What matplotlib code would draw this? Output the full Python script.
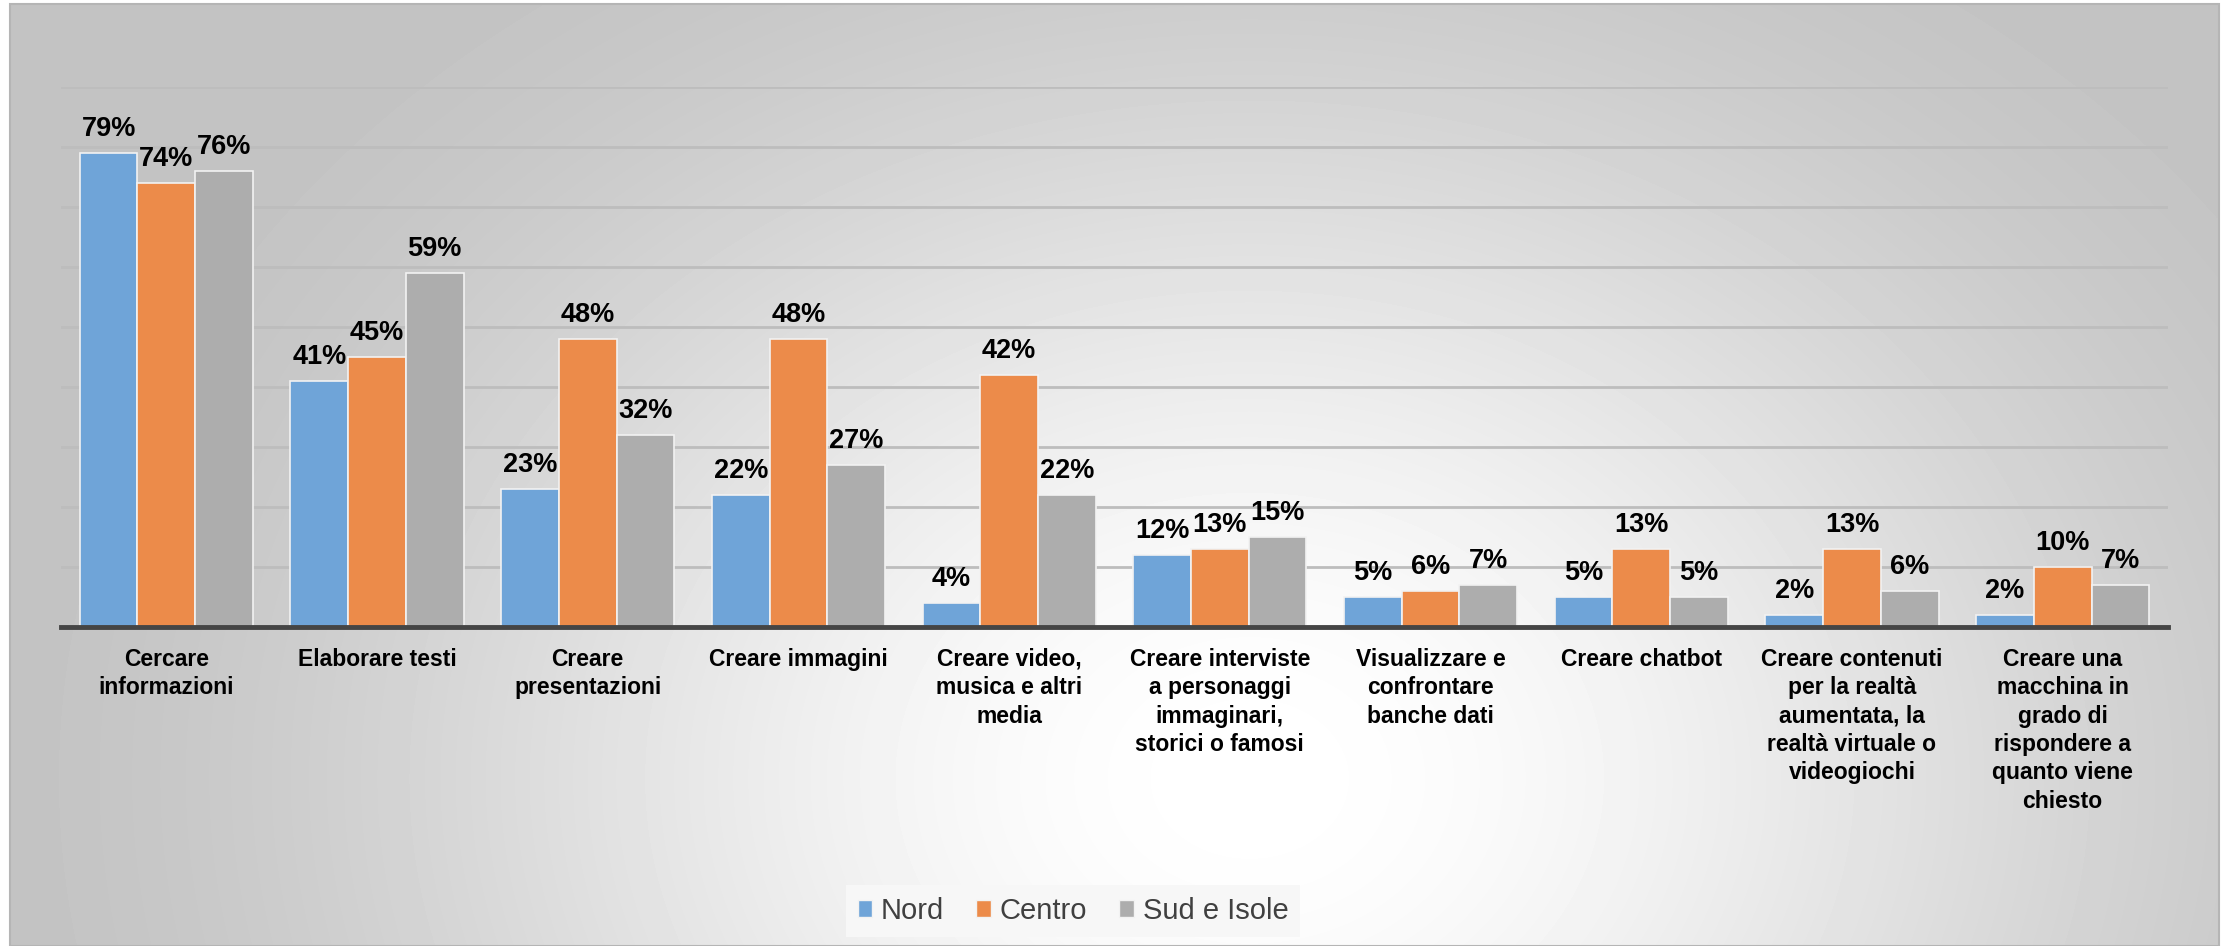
import numpy as np
import matplotlib
matplotlib.use("Agg")
import matplotlib.pyplot as plt
from matplotlib.patches import Patch, Rectangle

categories = [
    "Cercare\ninformazioni",
    "Elaborare testi",
    "Creare\npresentazioni",
    "Creare immagini",
    "Creare video,\nmusica e altri\nmedia",
    "Creare interviste\na personaggi\nimmaginari,\nstorici o famosi",
    "Visualizzare e\nconfrontare\nbanche dati",
    "Creare chatbot",
    "Creare contenuti\nper la realtà\naumentata, la\nrealtà virtuale o\nvideogiochi",
    "Creare una\nmacchina in\ngrado di\nrispondere a\nquanto viene\nchiesto",
]
nord = [79, 41, 23, 22, 4, 12, 5, 5, 2, 2]
centro = [74, 45, 48, 48, 42, 13, 6, 13, 13, 10]
sud = [76, 59, 32, 27, 22, 15, 7, 5, 6, 7]
series_names = ["Nord", "Centro", "Sud e Isole"]
colors = ["#6fa4d8", "#ec8b4a", "#adadad"]
gridlines = [10, 20, 30, 40, 50, 60, 70, 80, 90]

W, H = 2224, 946
fig = plt.figure(figsize=(W / 100, H / 100), dpi=100)

# background panel: light centre fading to grey edges
bg = fig.add_axes([0, 0, 1, 1])
bg.set_xlim(0, W)
bg.set_ylim(H, 0)
bg.axis("off")
x0, x1, y0, y1 = 10, 2219, 4, 946
xx, yy = np.meshgrid(np.linspace(x0, x1, 600), np.linspace(y0, y1, 300))
r = np.clip(np.sqrt(((xx - 1250) / 1300) ** 2 + ((yy - 780) / 1050) ** 2), 0, 1)
shade = 1 - 0.235 * (3 * r ** 2 - 2 * r ** 3)
bg.imshow(shade, cmap="gray", vmin=0, vmax=1, extent=(x0, x1, y1, y0),
          aspect="auto", interpolation="bilinear")
bg.add_patch(Rectangle((x0, y0), x1 - x0, y1 - y0, fill=False,
                       edgecolor="#b5b5b5", linewidth=1.5))

ax = fig.add_axes([61 / W, 1 - 627 / H, (2168 - 61) / W, (627 - 87) / H])
ax.set_facecolor("none")

x = np.arange(len(categories))
width = 0.274
for i, (vals, name, col) in enumerate(zip([nord, centro, sud], series_names, colors)):
    pos = x + (i - 1) * width
    ax.bar(pos, vals, width, color=col, edgecolor="#f2f2f2", linewidth=1.2,
           zorder=3, label=name)
    for px, v in zip(pos, vals):
        ax.annotate(f"{v}%", (px, v), xytext=(0, 12), textcoords="offset points",
                    ha="center", va="baseline", fontsize=19.5, fontweight="bold",
                    family="Liberation Sans", color="black", zorder=4)

ax.set_xlim(-0.5, len(categories) - 0.5)
ax.set_ylim(0, 90)
ax.set_yticks(gridlines)
ax.yaxis.grid(True, color="#bdbdbd", linewidth=2, zorder=0)
ax.tick_params(axis="y", length=0, labelleft=False)
ax.set_xticks(x)
ax.set_xticklabels(categories, fontsize=16.5, fontweight="bold",
                   family="Liberation Sans", linespacing=1.3)
ax.tick_params(axis="x", length=0, pad=15)
for s in ["top", "left", "right"]:
    ax.spines[s].set_visible(False)
ax.spines["bottom"].set_color("#454545")
ax.spines["bottom"].set_linewidth(3.5)
ax.spines["bottom"].set_zorder(5)

handles = [Patch(facecolor=c, edgecolor="#f2f2f2", linewidth=1) for c in colors]
leg = fig.legend(handles, series_names, loc="center",
                 bbox_to_anchor=(1073 / W, 1 - 911 / H), ncol=3,
                 prop={"family": "Liberation Sans", "size": 21},
                 handlelength=0.5, handleheight=0.5, handletextpad=0.3,
                 columnspacing=1.1, frameon=True, fancybox=False,
                 borderpad=0.4, borderaxespad=0)
leg.get_frame().set_facecolor("#f7f7f7")
leg.get_frame().set_edgecolor("none")
leg.get_frame().set_alpha(1)
for t in leg.get_texts():
    t.set_color("#404040")

fig.savefig("out.png", dpi=100)
